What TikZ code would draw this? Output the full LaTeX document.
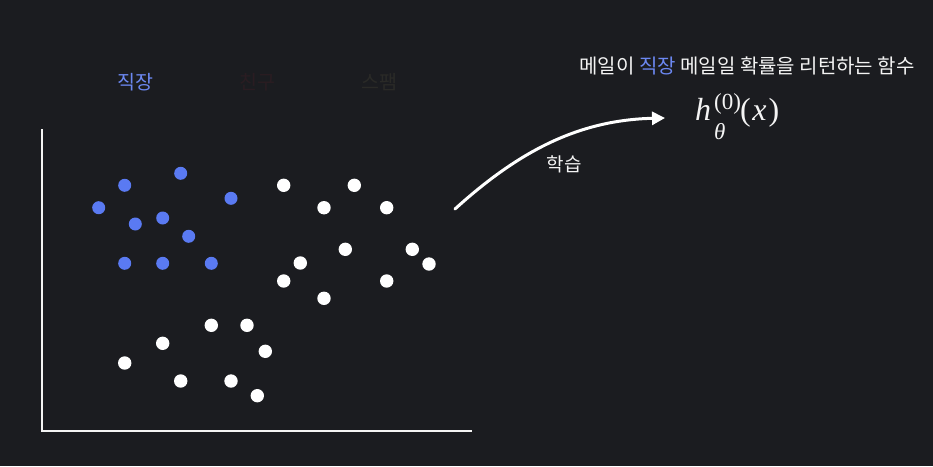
\documentclass[tikz,border=0pt]{standalone}
\usepackage{fontspec}
\newfontfamily\kr{Noto Sans CJK KR}
\newfontfamily\tms{Liberation Serif}
\usetikzlibrary{arrows.meta}
\definecolor{bg}{HTML}{1B1C20}
\definecolor{dotblue}{HTML}{5A7AF2}
\definecolor{txtblue}{HTML}{6C88F2}
\definecolor{friend}{HTML}{2A1C22}
\definecolor{spam}{HTML}{2A2A27}
\definecolor{fg}{HTML}{F4F4F4}
\newcommand{\scr}{\fontsize{23}{23}\selectfont}
\tikzset{
  bdot/.style={circle,fill=dotblue,inner sep=0pt,minimum size=13pt},
  wdot/.style={circle,fill=white,inner sep=0pt,minimum size=13.4pt},
  axis/.style={draw=fg,line width=2.6pt,line join=miter,line cap=rect},
  lbl/.style={font=\kr\fontsize{19.5}{22}\selectfont,inner sep=0pt},
  learn/.style={-{Triangle[length=13pt,width=13pt]},draw=white,line width=3pt,line cap=round}
}
\begin{document}
\begin{tikzpicture}[x=1pt,y=-1pt]
\fill[bg] (0,0) rectangle (933,466);
\useasboundingbox (0,0) rectangle (933,466);
% labels
\node[lbl,text=txtblue] (lwork) at (135,82) {직장};
\node[lbl,text=friend] (lfriend) at (257,82) {친구};
\node[lbl,text=spam] (lspam) at (379,82) {스팸};
% axes
\coordinate (ytop) at (42,130);
\coordinate (origin) at (42,431);
\coordinate (xend) at (471,431);
\draw[axis] (ytop) -- (origin) -- (xend);
% blue dots
\foreach \i/\x/\y in {1/124.7/185.3,2/180.7/173.3,3/98.7/207.7,4/231/198.3,5/135.3/224,6/162.7/218,7/188.7/236.3,8/124.7/263.3,9/162.7/263.3,10/211.3/263.3}
  \node[bdot] (b\i) at (\x,\y) {};
% white dots
\foreach \i/\x/\y in {1/283.7/185.3,2/354.3/185.3,3/324/207.7,4/386.7/207.7,5/345.3/249.3,6/412.3/249.3,7/300.3/263,8/429/264,9/283.7/281,10/386.7/281,11/324/298.3,12/211.3/325.3,13/247/325.3,14/162.7/343.3,15/265.3/351.3,16/124.7/363,17/180.7/381,18/231/381,19/257.3/395.7}
  \node[wdot] (w\i) at (\x,\y) {};
% title
\node[lbl,text=fg,font=\kr\fontsize{20}{22}\selectfont] (title) at (747,66) {메일이 \textcolor{txtblue}{직장} 메일일 확률을 리턴하는 함수};
% formula
\node[text=fg,inner sep=0pt,font=\tms\fontsize{32}{34}\selectfont,anchor=base west] (func) at (695,120)
  {\makebox[19pt][l]{\itshape h}\makebox[26pt][l]{\rlap{\raisebox{11pt}{\scr(0)}}\raisebox{-19pt}{\scr\itshape θ}}(\kern1.5pt{\itshape x}\kern2pt)};
% arrow
\coordinate (astart) at (455,209);
\coordinate (aend) at (665,118);
\draw[learn] (astart) .. controls (520,150) and (580,120) .. (aend);
\node[lbl,text=fg,font=\kr\fontsize{19}{22}\selectfont] (lrn) at (564,164) {학습};
\end{tikzpicture}
\end{document}
